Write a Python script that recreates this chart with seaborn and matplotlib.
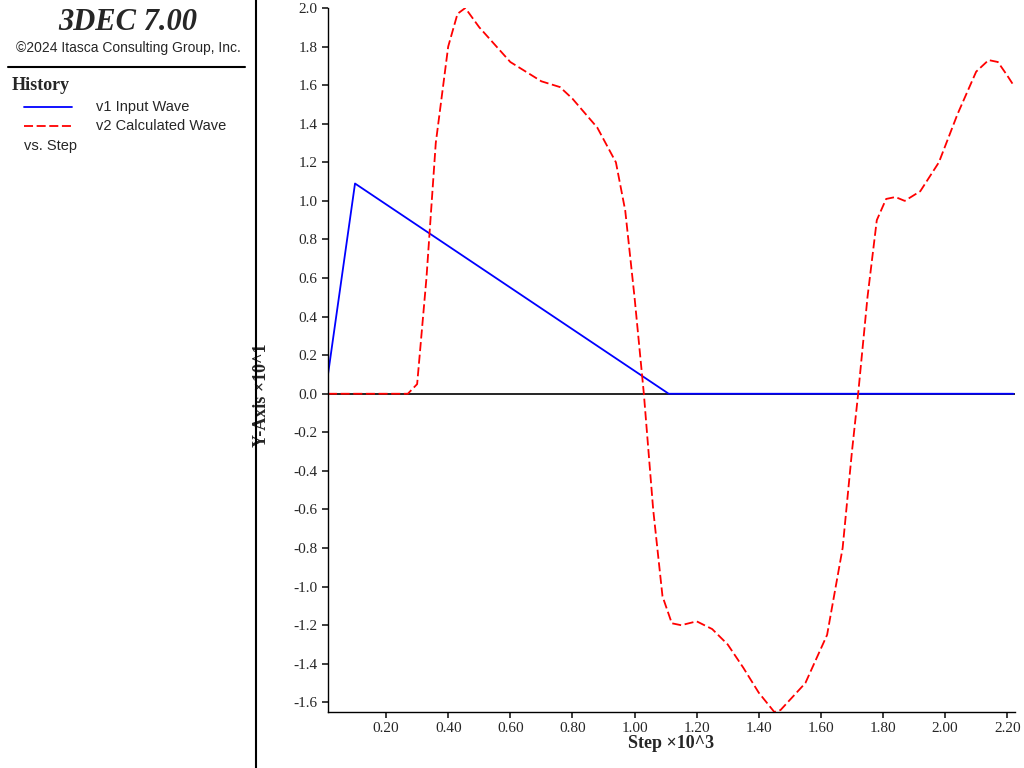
import matplotlib
matplotlib.use("Agg")
import matplotlib.pyplot as plt
import seaborn as sns
import pandas as pd

# Values (x in Step x10^3, y in Y-Axis x10^1)
input_step = [0.013, 0.10, 1.11, 2.22]
input_val = [0.10, 1.09, 0.0, 0.0]

calc_step = [0.013, 0.27, 0.30, 0.33, 0.36, 0.40, 0.43, 0.455, 0.50, 0.60, 0.70, 0.76,
             0.80, 0.88, 0.94, 0.97, 1.00, 1.03, 1.06, 1.09, 1.12, 1.15, 1.20, 1.25,
             1.30, 1.35, 1.40, 1.45, 1.47, 1.55, 1.62, 1.67, 1.70, 1.72, 1.75, 1.78,
             1.81, 1.84, 1.87, 1.92, 1.98, 2.04, 2.10, 2.14, 2.17, 2.20, 2.22]
calc_val = [0.0, 0.0, 0.05, 0.6, 1.3, 1.8, 1.97, 2.0, 1.9, 1.72, 1.62, 1.59,
            1.53, 1.38, 1.2, 0.95, 0.5, 0.0, -0.6, -1.05, -1.19, -1.2, -1.18, -1.22,
            -1.3, -1.42, -1.55, -1.65, -1.64, -1.5, -1.25, -0.8, -0.3, 0.0, 0.5, 0.9,
            1.01, 1.02, 1.0, 1.05, 1.2, 1.45, 1.67, 1.73, 1.72, 1.65, 1.6]

x_ticks = [0.20, 0.40, 0.60, 0.80, 1.00, 1.20, 1.40, 1.60, 1.80, 2.00, 2.20]
y_ticks = [round(-1.6 + 0.2 * i, 1) for i in range(19)]

sns.set_theme(style="white")
plt.rcParams["font.family"] = "Liberation Serif"

fig = plt.figure(figsize=(10.24, 7.68), dpi=100)
ax = fig.add_axes([328 / 1024, 56 / 768, (1015 - 328) / 1024, (712 - 8) / 768])

inp = pd.DataFrame({"x": input_step, "y": input_val})
calc = pd.DataFrame({"x": calc_step, "y": calc_val})
sns.lineplot(data=inp, x="x", y="y", ax=ax, color="#0000ff", linewidth=1.3)
sns.lineplot(data=calc, x="x", y="y", ax=ax, color="#ff0000", linewidth=1.3,
             linestyle=(0, (5, 2)))
ax.axhline(0, color="black", linewidth=1.2, zorder=0)

ax.set_xlim(0.013, 2.225)
ax.set_ylim(-1.65, 2.0)
ax.set_xticks(x_ticks)
ax.set_xticklabels([f"{v:.2f}" for v in x_ticks])
ax.set_yticks(y_ticks)
ax.set_yticklabels([f"{v:.1f}" for v in y_ticks])
ax.tick_params(labelsize=11, length=4, direction="out", left=True, bottom=True)
ax.set_xlabel("Step ×10^3", fontsize=13, fontweight="bold", labelpad=0)
ax.set_ylabel("Y-Axis ×10^1", fontsize=13, fontweight="bold")
ax.yaxis.set_label_coords(-0.085, 0.45)
for side in ["top", "right"]:
    ax.spines[side].set_visible(False)
for side in ["left", "bottom"]:
    ax.spines[side].set_color("black")
    ax.spines[side].set_linewidth(1)

# Left info panel
fig.add_artist(plt.Line2D([256 / 1024, 256 / 1024], [0, 1], color="black", linewidth=1.5))
fig.add_artist(plt.Line2D([8 / 1024, 245 / 1024], [1 - 67 / 768, 1 - 67 / 768], color="black", linewidth=1.5))
fig.text(128 / 1024, 1 - 23 / 768, "3DEC 7.00", ha="center", va="center",
         fontsize=22, fontstyle="italic", fontweight="bold")
fig.text(128 / 1024, 1 - 48 / 768, "©2024 Itasca Consulting Group, Inc.", ha="center",
         va="center", fontsize=10, family="Liberation Sans")
fig.text(12 / 1024, 1 - 86 / 768, "History", va="center", fontsize=13, fontweight="bold")
fig.add_artist(plt.Line2D([24 / 1024, 72 / 1024], [1 - 107 / 768] * 2, color="#0000ff", linewidth=1.3))
fig.add_artist(plt.Line2D([24 / 1024, 72 / 1024], [1 - 126 / 768] * 2, color="#ff0000",
                          linewidth=1.3, linestyle=(0, (5, 2))))
fig.text(96 / 1024, 1 - 107 / 768, "v1 Input Wave", va="center", fontsize=10.5, family="Liberation Sans")
fig.text(96 / 1024, 1 - 126 / 768, "v2 Calculated Wave", va="center", fontsize=10.5, family="Liberation Sans")
fig.text(24 / 1024, 1 - 146 / 768, "vs. Step", va="center", fontsize=10.5, family="Liberation Sans")

fig.savefig("out.png", dpi=100)
